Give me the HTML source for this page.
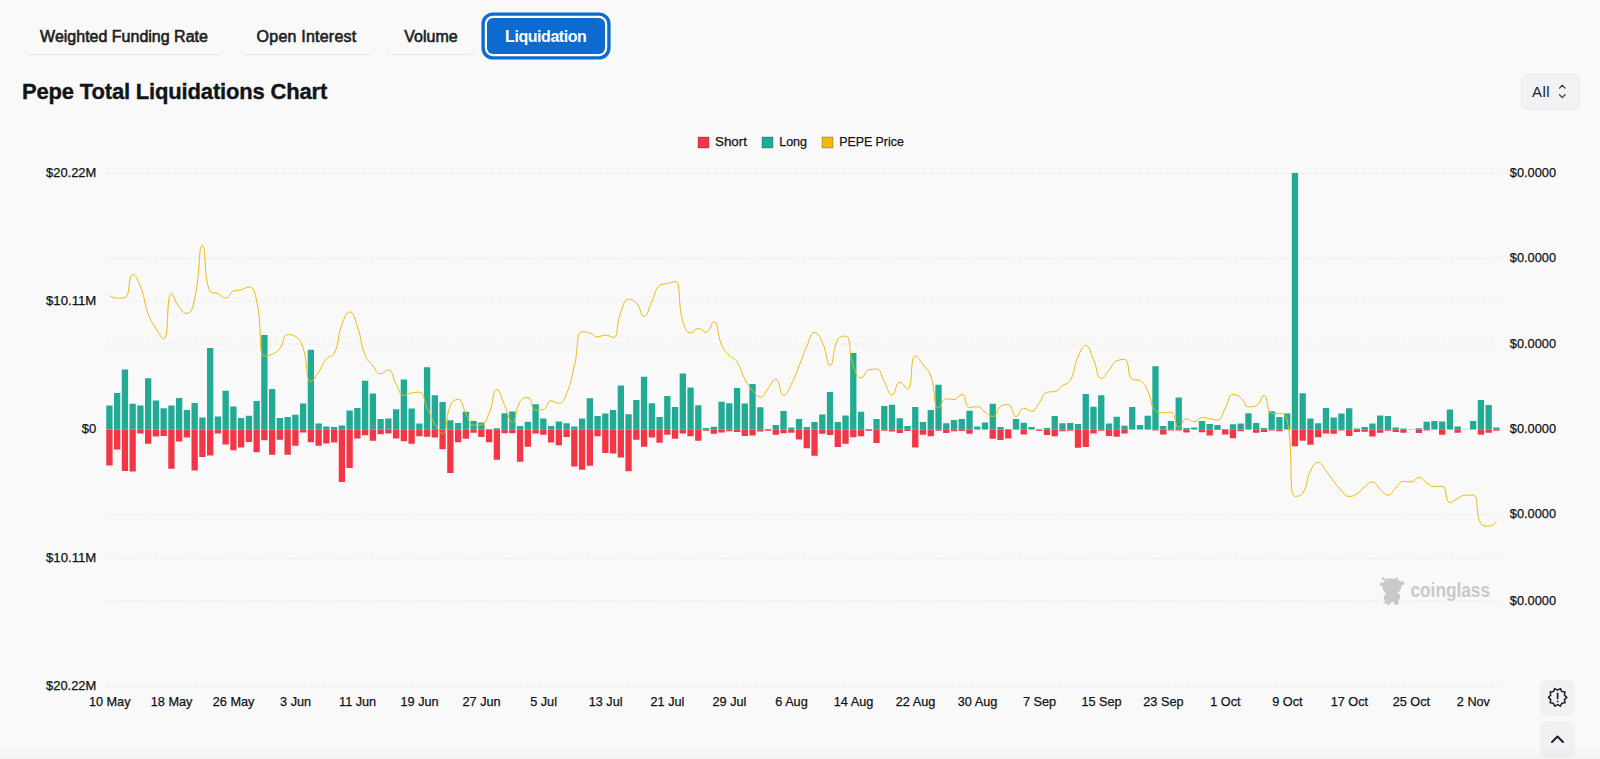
<!DOCTYPE html>
<html lang="en"><head><meta charset="utf-8"><title>Pepe Total Liquidations Chart</title>
<style>
html,body{margin:0;padding:0}
body{width:1600px;height:759px;overflow:hidden;background:#f9f9f9;position:relative;font-family:"Liberation Sans",sans-serif;color:#1b1e23}
.chart{position:absolute;left:0;top:0}
.tab{position:absolute;top:17px;height:37px;box-sizing:border-box;border-radius:8px;background:#f9f9f9;box-shadow:0 1px 0 rgba(0,0,0,.035),0 2px 2px -1px rgba(0,0,0,.05);font-size:16px;line-height:39.5px;text-align:center;white-space:nowrap;-webkit-text-stroke:.6px #1b1e23}
.tab.on{top:18px;height:36px;line-height:37.5px;letter-spacing:-.45px;background:#0d6bcf;color:#fff;font-weight:bold;border-radius:6px;box-shadow:0 0 0 2.2px #fff,0 0 0 5.6px #0d6bcf;-webkit-text-stroke:0}
h1{position:absolute;left:22px;top:76.5px;margin:0;font-size:22px;line-height:30px;font-weight:bold;letter-spacing:-.17px;-webkit-text-stroke:.35px #111418;white-space:nowrap;color:#111418}
.sel{position:absolute;left:1521px;top:74px;width:59px;height:35px;box-sizing:border-box;border-radius:7px;background:#f0f2f4;border:1px solid #e9ebee;box-shadow:0 1px 2px rgba(0,0,0,.06);font-size:15px;line-height:33px;padding-left:10px;letter-spacing:.5px}
.sel svg{position:absolute;left:34px;top:8px}
.fab{position:absolute;left:1540px;width:35px;height:36.5px;border-radius:7px;background:#eff1f3}
.fab svg{position:absolute;left:0;top:0}
.shade{position:absolute;left:0;right:0;bottom:0;height:12px;background:linear-gradient(rgba(0,0,0,0),rgba(0,0,0,.028))}
</style></head><body>
<svg class="chart" width="1600" height="759" viewBox="0 0 1600 759">
<g stroke="#eaeaea" stroke-width="1" stroke-dasharray="4.5 2.25" fill="none">
<path d="M105.6 173.3H1499.6"/>
<path d="M105.6 258.2H1499.6"/>
<path d="M105.6 344.0H1499.6"/>
<path d="M105.6 429.6H1499.6"/>
<path d="M105.6 514.8H1499.6"/>
<path d="M105.6 600.9H1499.6"/>
<path d="M105.6 686.4H1499.6"/>
</g><g stroke="#eeeeee" stroke-width="1" stroke-dasharray="4.5 2.25" fill="none">
<path d="M105.6 301.6H1499.6"/>
<path d="M105.6 558.4H1499.6"/>
</g>
<path fill="#22ab94" d="M106.28 429.6h6.3v-24.1h-6.3zM114.02 429.6h6.3v-36.7h-6.3zM121.77 429.6h6.3v-60.1h-6.3zM129.52 429.6h6.3v-25.8h-6.3zM137.27 429.6h6.3v-24.1h-6.3zM145.02 429.6h6.3v-51.4h-6.3zM152.77 429.6h6.3v-29.1h-6.3zM160.51 429.6h6.3v-21.3h-6.3zM168.26 429.6h6.3v-24.1h-6.3zM176.01 429.6h6.3v-31.6h-6.3zM183.76 429.6h6.3v-19.5h-6.3zM191.51 429.6h6.3v-26.6h-6.3zM199.26 429.6h6.3v-12.2h-6.3zM207.01 429.6h6.3v-81.5h-6.3zM214.75 429.6h6.3v-13.1h-6.3zM222.50 429.6h6.3v-38.8h-6.3zM230.25 429.6h6.3v-23.1h-6.3zM238.00 429.6h6.3v-11.6h-6.3zM245.75 429.6h6.3v-13.9h-6.3zM253.50 429.6h6.3v-28.5h-6.3zM261.25 429.6h6.3v-94.6h-6.3zM268.99 429.6h6.3v-40.5h-6.3zM276.74 429.6h6.3v-11.6h-6.3zM284.49 429.6h6.3v-12.5h-6.3zM292.24 429.6h6.3v-14.8h-6.3zM299.99 429.6h6.3v-26.0h-6.3zM307.74 429.6h6.3v-79.8h-6.3zM315.48 429.6h6.3v-6.2h-6.3zM323.23 429.6h6.3v-3.1h-6.3zM330.98 429.6h6.3v-2.5h-6.3zM338.73 429.6h6.3v-4.1h-6.3zM346.48 429.6h6.3v-19.1h-6.3zM354.23 429.6h6.3v-21.6h-6.3zM361.98 429.6h6.3v-48.8h-6.3zM369.72 429.6h6.3v-36.0h-6.3zM377.47 429.6h6.3v-10.6h-6.3zM385.22 429.6h6.3v-11.0h-6.3zM392.97 429.6h6.3v-20.4h-6.3zM400.72 429.6h6.3v-50.2h-6.3zM408.47 429.6h6.3v-21.0h-6.3zM416.21 429.6h6.3v-6.0h-6.3zM423.96 429.6h6.3v-62.3h-6.3zM431.71 429.6h6.3v-34.4h-6.3zM439.46 429.6h6.3v-27.5h-6.3zM447.21 429.6h6.3v-9.4h-6.3zM454.96 429.6h6.3v-6.6h-6.3zM462.71 429.6h6.3v-17.9h-6.3zM470.45 429.6h6.3v-8.5h-6.3zM478.20 429.6h6.3v-7.2h-6.3zM485.95 429.6h6.3v-0.4h-6.3zM493.70 429.6h6.3v-1.4h-6.3zM501.45 429.6h6.3v-16.3h-6.3zM509.20 429.6h6.3v-18.1h-6.3zM516.95 429.6h6.3v-3.5h-6.3zM524.69 429.6h6.3v-7.9h-6.3zM532.44 429.6h6.3v-25.4h-6.3zM540.19 429.6h6.3v-11.2h-6.3zM547.94 429.6h6.3v-3.7h-6.3zM555.69 429.6h6.3v-8.1h-6.3zM563.44 429.6h6.3v-6.4h-6.3zM571.19 429.6h6.3v-3.2h-6.3zM578.93 429.6h6.3v-11.2h-6.3zM586.68 429.6h6.3v-31.4h-6.3zM594.43 429.6h6.3v-13.5h-6.3zM602.18 429.6h6.3v-16.0h-6.3zM609.93 429.6h6.3v-19.5h-6.3zM617.68 429.6h6.3v-44.2h-6.3zM625.42 429.6h6.3v-15.4h-6.3zM633.17 429.6h6.3v-29.5h-6.3zM640.92 429.6h6.3v-52.9h-6.3zM648.67 429.6h6.3v-26.4h-6.3zM656.42 429.6h6.3v-12.5h-6.3zM664.17 429.6h6.3v-33.5h-6.3zM671.92 429.6h6.3v-22.5h-6.3zM679.66 429.6h6.3v-56.1h-6.3zM687.41 429.6h6.3v-42.0h-6.3zM695.16 429.6h6.3v-24.4h-6.3zM702.91 429.6h6.3v-1.6h-6.3zM710.66 429.6h6.3v-2.9h-6.3zM718.41 429.6h6.3v-27.9h-6.3zM726.16 429.6h6.3v-26.3h-6.3zM733.90 429.6h6.3v-41.7h-6.3zM741.65 429.6h6.3v-26.0h-6.3zM749.40 429.6h6.3v-45.7h-6.3zM757.15 429.6h6.3v-22.3h-6.3zM764.90 429.6h6.3v-0.5h-6.3zM772.65 429.6h6.3v-4.5h-6.3zM780.39 429.6h6.3v-18.5h-6.3zM788.14 429.6h6.3v-2.2h-6.3zM795.89 429.6h6.3v-10.7h-6.3zM803.64 429.6h6.3v-2.6h-6.3zM811.39 429.6h6.3v-7.6h-6.3zM819.14 429.6h6.3v-15.0h-6.3zM826.89 429.6h6.3v-37.5h-6.3zM834.63 429.6h6.3v-7.6h-6.3zM842.38 429.6h6.3v-14.1h-6.3zM850.13 429.6h6.3v-76.6h-6.3zM857.88 429.6h6.3v-17.9h-6.3zM865.63 429.6h6.3v-0.5h-6.3zM873.38 429.6h6.3v-10.7h-6.3zM881.13 429.6h6.3v-23.5h-6.3zM888.87 429.6h6.3v-24.8h-6.3zM896.62 429.6h6.3v-11.4h-6.3zM904.37 429.6h6.3v-3.7h-6.3zM912.12 429.6h6.3v-22.5h-6.3zM919.87 429.6h6.3v-7.5h-6.3zM927.62 429.6h6.3v-19.5h-6.3zM935.36 429.6h6.3v-44.8h-6.3zM943.11 429.6h6.3v-6.4h-6.3zM950.86 429.6h6.3v-9.7h-6.3zM958.61 429.6h6.3v-10.7h-6.3zM966.36 429.6h6.3v-18.9h-6.3zM974.11 429.6h6.3v-3.1h-6.3zM981.86 429.6h6.3v-7.2h-6.3zM989.60 429.6h6.3v-25.8h-6.3zM997.35 429.6h6.3v-2.6h-6.3zM1005.10 429.6h6.3v-0.4h-6.3zM1012.85 429.6h6.3v-10.6h-6.3zM1020.60 429.6h6.3v-6.9h-6.3zM1028.35 429.6h6.3v-2.6h-6.3zM1036.10 429.6h6.3v-0.4h-6.3zM1043.84 429.6h6.3v-1.6h-6.3zM1051.59 429.6h6.3v-13.5h-6.3zM1059.34 429.6h6.3v-6.4h-6.3zM1067.09 429.6h6.3v-6.6h-6.3zM1074.84 429.6h6.3v-5.6h-6.3zM1082.59 429.6h6.3v-35.7h-6.3zM1090.33 429.6h6.3v-22.9h-6.3zM1098.08 429.6h6.3v-34.4h-6.3zM1105.83 429.6h6.3v-6.2h-6.3zM1113.58 429.6h6.3v-12.9h-6.3zM1121.33 429.6h6.3v-3.9h-6.3zM1129.08 429.6h6.3v-22.5h-6.3zM1136.83 429.6h6.3v-4.7h-6.3zM1144.57 429.6h6.3v-13.8h-6.3zM1152.32 429.6h6.3v-63.3h-6.3zM1160.07 429.6h6.3v-3.7h-6.3zM1167.82 429.6h6.3v-8.5h-6.3zM1175.57 429.6h6.3v-32.0h-6.3zM1183.32 429.6h6.3v-1.6h-6.3zM1191.07 429.6h6.3v-2.2h-6.3zM1198.81 429.6h6.3v-8.5h-6.3zM1206.56 429.6h6.3v-5.6h-6.3zM1214.31 429.6h6.3v-4.5h-6.3zM1222.06 429.6h6.3v-0.4h-6.3zM1229.81 429.6h6.3v-5.4h-6.3zM1237.56 429.6h6.3v-6.2h-6.3zM1245.30 429.6h6.3v-16.3h-6.3zM1253.05 429.6h6.3v-6.6h-6.3zM1260.80 429.6h6.3v-1.6h-6.3zM1268.55 429.6h6.3v-18.3h-6.3zM1276.30 429.6h6.3v-12.5h-6.3zM1284.05 429.6h6.3v-16.0h-6.3zM1291.80 429.6h6.3v-256.7h-6.3zM1299.54 429.6h6.3v-36.4h-6.3zM1307.29 429.6h6.3v-11.0h-6.3zM1315.04 429.6h6.3v-6.4h-6.3zM1322.79 429.6h6.3v-21.6h-6.3zM1330.54 429.6h6.3v-12.2h-6.3zM1338.29 429.6h6.3v-16.0h-6.3zM1346.04 429.6h6.3v-21.3h-6.3zM1353.78 429.6h6.3v-1.0h-6.3zM1361.53 429.6h6.3v-2.6h-6.3zM1369.28 429.6h6.3v-6.2h-6.3zM1377.03 429.6h6.3v-14.1h-6.3zM1384.78 429.6h6.3v-13.5h-6.3zM1392.53 429.6h6.3v-2.2h-6.3zM1400.27 429.6h6.3v-1.2h-6.3zM1408.02 429.6h6.3v-0.4h-6.3zM1415.77 429.6h6.3v-1.4h-6.3zM1423.52 429.6h6.3v-7.9h-6.3zM1431.27 429.6h6.3v-8.5h-6.3zM1439.02 429.6h6.3v-8.2h-6.3zM1446.77 429.6h6.3v-20.1h-6.3zM1454.51 429.6h6.3v-3.2h-6.3zM1462.26 429.6h6.3v-0.4h-6.3zM1470.01 429.6h6.3v-8.7h-6.3zM1477.76 429.6h6.3v-29.5h-6.3zM1485.51 429.6h6.3v-24.5h-6.3zM1493.26 429.6h6.3v-2.2h-6.3z"/>
<path fill="#f23645" d="M106.28 429.6h6.3v35.9h-6.3zM114.02 429.6h6.3v19.8h-6.3zM121.77 429.6h6.3v41.4h-6.3zM129.52 429.6h6.3v42.0h-6.3zM137.27 429.6h6.3v3.8h-6.3zM145.02 429.6h6.3v14.2h-6.3zM152.77 429.6h6.3v6.9h-6.3zM160.51 429.6h6.3v6.4h-6.3zM168.26 429.6h6.3v39.2h-6.3zM176.01 429.6h6.3v12.0h-6.3zM183.76 429.6h6.3v7.9h-6.3zM191.51 429.6h6.3v40.9h-6.3zM199.26 429.6h6.3v27.3h-6.3zM207.01 429.6h6.3v25.8h-6.3zM214.75 429.6h6.3v3.9h-6.3zM222.50 429.6h6.3v15.0h-6.3zM230.25 429.6h6.3v20.7h-6.3zM238.00 429.6h6.3v18.0h-6.3zM245.75 429.6h6.3v12.3h-6.3zM253.50 429.6h6.3v22.7h-6.3zM261.25 429.6h6.3v10.7h-6.3zM268.99 429.6h6.3v25.1h-6.3zM276.74 429.6h6.3v10.1h-6.3zM284.49 429.6h6.3v25.1h-6.3zM292.24 429.6h6.3v16.2h-6.3zM299.99 429.6h6.3v2.9h-6.3zM307.74 429.6h6.3v12.6h-6.3zM315.48 429.6h6.3v16.1h-6.3zM323.23 429.6h6.3v13.8h-6.3zM330.98 429.6h6.3v13.0h-6.3zM338.73 429.6h6.3v52.4h-6.3zM346.48 429.6h6.3v38.4h-6.3zM354.23 429.6h6.3v8.8h-6.3zM361.98 429.6h6.3v5.7h-6.3zM369.72 429.6h6.3v11.1h-6.3zM377.47 429.6h6.3v4.6h-6.3zM385.22 429.6h6.3v3.9h-6.3zM392.97 429.6h6.3v8.9h-6.3zM400.72 429.6h6.3v11.7h-6.3zM408.47 429.6h6.3v14.2h-6.3zM416.21 429.6h6.3v6.7h-6.3zM423.96 429.6h6.3v7.1h-6.3zM431.71 429.6h6.3v7.9h-6.3zM439.46 429.6h6.3v19.6h-6.3zM447.21 429.6h6.3v43.4h-6.3zM454.96 429.6h6.3v12.7h-6.3zM462.71 429.6h6.3v9.2h-6.3zM470.45 429.6h6.3v3.2h-6.3zM478.20 429.6h6.3v7.3h-6.3zM485.95 429.6h6.3v12.6h-6.3zM493.70 429.6h6.3v30.2h-6.3zM501.45 429.6h6.3v3.6h-6.3zM509.20 429.6h6.3v3.6h-6.3zM516.95 429.6h6.3v32.1h-6.3zM524.69 429.6h6.3v17.1h-6.3zM532.44 429.6h6.3v3.9h-6.3zM540.19 429.6h6.3v5.2h-6.3zM547.94 429.6h6.3v13.0h-6.3zM555.69 429.6h6.3v15.7h-6.3zM563.44 429.6h6.3v7.4h-6.3zM571.19 429.6h6.3v37.0h-6.3zM578.93 429.6h6.3v40.1h-6.3zM586.68 429.6h6.3v36.1h-6.3zM594.43 429.6h6.3v6.7h-6.3zM602.18 429.6h6.3v23.3h-6.3zM609.93 429.6h6.3v24.0h-6.3zM617.68 429.6h6.3v28.0h-6.3zM625.42 429.6h6.3v41.7h-6.3zM633.17 429.6h6.3v10.2h-6.3zM640.92 429.6h6.3v17.1h-6.3zM648.67 429.6h6.3v7.9h-6.3zM656.42 429.6h6.3v13.1h-6.3zM664.17 429.6h6.3v5.1h-6.3zM671.92 429.6h6.3v9.2h-6.3zM679.66 429.6h6.3v3.9h-6.3zM687.41 429.6h6.3v6.7h-6.3zM695.16 429.6h6.3v11.1h-6.3zM702.91 429.6h6.3v1.1h-6.3zM710.66 429.6h6.3v4.2h-6.3zM718.41 429.6h6.3v2.9h-6.3zM726.16 429.6h6.3v1.7h-6.3zM733.90 429.6h6.3v2.3h-6.3zM741.65 429.6h6.3v6.4h-6.3zM749.40 429.6h6.3v5.8h-6.3zM757.15 429.6h6.3v1.9h-6.3zM764.90 429.6h6.3v1.1h-6.3zM772.65 429.6h6.3v5.2h-6.3zM780.39 429.6h6.3v3.6h-6.3zM788.14 429.6h6.3v3.2h-6.3zM795.89 429.6h6.3v9.8h-6.3zM803.64 429.6h6.3v18.6h-6.3zM811.39 429.6h6.3v26.1h-6.3zM819.14 429.6h6.3v4.2h-6.3zM826.89 429.6h6.3v5.4h-6.3zM834.63 429.6h6.3v17.3h-6.3zM842.38 429.6h6.3v14.2h-6.3zM850.13 429.6h6.3v7.7h-6.3zM857.88 429.6h6.3v6.7h-6.3zM865.63 429.6h6.3v1.1h-6.3zM873.38 429.6h6.3v13.3h-6.3zM881.13 429.6h6.3v1.1h-6.3zM888.87 429.6h6.3v1.9h-6.3zM896.62 429.6h6.3v3.3h-6.3zM904.37 429.6h6.3v1.4h-6.3zM912.12 429.6h6.3v18.0h-6.3zM919.87 429.6h6.3v5.2h-6.3zM927.62 429.6h6.3v6.7h-6.3zM935.36 429.6h6.3v1.1h-6.3zM943.11 429.6h6.3v3.3h-6.3zM950.86 429.6h6.3v1.7h-6.3zM958.61 429.6h6.3v1.4h-6.3zM966.36 429.6h6.3v4.2h-6.3zM989.60 429.6h6.3v9.2h-6.3zM997.35 429.6h6.3v10.5h-6.3zM1005.10 429.6h6.3v8.9h-6.3zM1020.60 429.6h6.3v4.8h-6.3zM1036.10 429.6h6.3v1.1h-6.3zM1043.84 429.6h6.3v5.4h-6.3zM1051.59 429.6h6.3v6.7h-6.3zM1059.34 429.6h6.3v1.7h-6.3zM1067.09 429.6h6.3v1.1h-6.3zM1074.84 429.6h6.3v18.2h-6.3zM1082.59 429.6h6.3v17.3h-6.3zM1090.33 429.6h6.3v3.9h-6.3zM1098.08 429.6h6.3v1.1h-6.3zM1105.83 429.6h6.3v6.4h-6.3zM1113.58 429.6h6.3v7.1h-6.3zM1121.33 429.6h6.3v3.9h-6.3zM1152.32 429.6h6.3v0.8h-6.3zM1160.07 429.6h6.3v4.8h-6.3zM1167.82 429.6h6.3v0.8h-6.3zM1175.57 429.6h6.3v0.8h-6.3zM1183.32 429.6h6.3v2.9h-6.3zM1198.81 429.6h6.3v2.7h-6.3zM1206.56 429.6h6.3v5.8h-6.3zM1214.31 429.6h6.3v0.4h-6.3zM1222.06 429.6h6.3v4.8h-6.3zM1229.81 429.6h6.3v8.6h-6.3zM1237.56 429.6h6.3v1.7h-6.3zM1253.05 429.6h6.3v3.2h-6.3zM1260.80 429.6h6.3v2.3h-6.3zM1268.55 429.6h6.3v0.8h-6.3zM1276.30 429.6h6.3v1.7h-6.3zM1291.80 429.6h6.3v16.7h-6.3zM1299.54 429.6h6.3v11.1h-6.3zM1307.29 429.6h6.3v15.1h-6.3zM1315.04 429.6h6.3v7.6h-6.3zM1322.79 429.6h6.3v3.9h-6.3zM1330.54 429.6h6.3v4.2h-6.3zM1338.29 429.6h6.3v0.8h-6.3zM1346.04 429.6h6.3v6.3h-6.3zM1353.78 429.6h6.3v2.3h-6.3zM1361.53 429.6h6.3v2.1h-6.3zM1369.28 429.6h6.3v6.9h-6.3zM1377.03 429.6h6.3v3.2h-6.3zM1384.78 429.6h6.3v1.1h-6.3zM1392.53 429.6h6.3v2.3h-6.3zM1400.27 429.6h6.3v3.2h-6.3zM1415.77 429.6h6.3v3.3h-6.3zM1423.52 429.6h6.3v0.8h-6.3zM1439.02 429.6h6.3v5.1h-6.3zM1454.51 429.6h6.3v3.2h-6.3zM1477.76 429.6h6.3v5.2h-6.3zM1485.51 429.6h6.3v3.2h-6.3zM1493.26 429.6h6.3v1.1h-6.3z"/>
<path fill="none" stroke="#f0b90b" stroke-width="1.0" stroke-linejoin="round" d="M109.5 295.6C109.5 295.6 113.2 298.2 117.2 298.2C121.0 298.2 123.1 298.2 124.9 297.7C130.8 296.1 127.8 274.5 132.7 274.5C135.5 274.5 137.9 279.9 140.4 286.4C145.6 299.6 143.3 300.6 148.2 314.0C151.0 321.7 151.6 321.5 155.9 328.5C159.4 334.1 162.0 339.1 163.7 339.1C169.7 339.1 165.7 293.5 171.4 293.5C173.4 293.5 174.4 301.2 179.2 307.4C182.2 311.2 184.1 313.5 186.9 313.5C191.9 313.5 192.8 306.5 194.7 298.2C200.6 272.2 198.3 245.0 202.4 245.0C206.1 245.0 203.6 280.3 210.2 291.6C211.3 293.5 214.3 292.0 217.9 293.5C222.0 295.3 222.1 298.2 225.7 298.2C229.8 298.2 229.0 292.8 233.4 291.1C236.7 289.8 237.4 290.8 241.2 289.8C245.1 288.7 246.3 286.9 248.9 286.9C254.0 286.9 254.9 293.2 256.7 300.9C262.7 327.8 257.6 356.2 264.4 356.2C265.4 356.2 268.7 356.1 272.2 354.3C276.4 352.1 276.9 352.1 279.9 348.3C284.7 342.2 282.5 334.6 287.7 334.6C290.3 334.6 292.6 334.6 295.4 336.4C300.4 339.6 300.9 341.7 303.2 348.3C308.6 364.3 305.2 381.7 310.9 381.7C313.0 381.7 315.2 377.1 318.7 372.0C322.9 365.7 321.6 364.5 326.4 358.8C329.4 355.3 332.3 357.6 334.2 353.5C340.1 340.5 336.7 338.5 341.9 324.6C344.5 317.7 346.0 311.9 349.7 311.9C353.7 311.9 354.7 318.7 357.4 326.4C362.4 340.5 359.7 341.6 365.2 355.4C367.5 361.4 368.7 360.9 372.9 365.9C376.5 370.1 376.3 373.8 380.6 373.8C384.1 373.8 385.7 369.9 388.4 369.9C393.5 369.9 391.9 377.3 396.1 384.3C399.7 390.1 399.0 395.4 403.9 395.4C406.8 395.4 407.7 393.8 411.6 393.0C415.4 392.2 417.0 392.2 419.4 392.2C424.8 392.2 423.3 400.2 427.1 408.1C431.0 416.0 430.4 416.4 434.9 423.9C438.1 429.3 440.3 433.9 442.6 433.9C448.1 433.9 444.6 418.4 450.4 405.4C452.3 401.1 455.2 399.4 458.1 399.4C462.9 399.4 461.8 406.5 465.9 413.3C469.5 419.4 468.6 425.2 473.6 425.2C476.4 425.2 478.6 425.2 481.4 424.7C486.3 423.8 486.4 419.5 489.1 413.3C494.1 402.0 492.3 389.6 496.9 389.6C500.1 389.6 500.9 397.4 504.6 405.4C508.6 413.9 508.8 422.5 512.4 422.5C516.6 422.5 514.5 410.5 520.1 401.5C522.3 398.0 525.0 397.5 527.9 397.5C532.8 397.5 530.5 410.2 535.6 410.2C538.3 410.2 540.3 410.2 543.4 409.4C548.0 408.2 546.6 400.7 551.1 400.7C554.3 400.7 555.8 403.3 558.9 403.3C563.5 403.3 564.3 399.2 566.6 393.6C572.0 380.5 570.9 379.8 574.4 365.9C578.6 348.9 575.8 331.7 582.1 331.7C583.5 331.7 586.2 331.8 589.9 333.0C593.9 334.4 593.6 336.9 597.6 336.9C601.3 336.9 601.5 335.1 605.4 335.1C609.3 335.1 611.3 337.5 613.1 337.5C619.0 337.5 615.9 324.2 620.9 311.9C623.6 305.1 623.7 299.3 628.6 299.3C631.4 299.3 633.6 299.7 636.3 302.7C641.4 308.3 640.4 316.4 644.1 316.4C648.1 316.4 648.1 308.9 651.8 301.4C655.8 293.5 654.3 290.2 659.6 285.6C662.0 283.5 663.5 284.5 667.3 283.5C671.2 282.5 673.8 281.6 675.1 281.6C681.6 281.6 677.1 302.1 682.8 321.1C684.9 327.8 685.8 333.0 690.6 333.0C693.6 333.0 694.4 328.5 698.3 328.5C702.1 328.5 703.0 332.2 706.1 332.2C710.7 332.2 711.1 321.9 713.8 321.9C718.9 321.9 716.6 333.9 721.6 344.8C724.3 350.7 725.0 350.6 729.3 355.4C732.7 359.2 734.4 357.8 737.1 362.0C742.1 369.7 740.4 370.9 744.8 379.1C748.2 385.3 748.0 385.6 752.6 390.9C755.8 394.6 756.8 397.0 760.3 397.0C764.5 397.0 764.3 392.7 768.1 388.3C772.0 383.8 772.7 379.1 775.8 379.1C780.5 379.1 779.1 395.4 783.6 395.4C786.9 395.4 788.2 390.3 791.3 384.3C795.9 375.5 795.3 375.1 799.1 365.9C803.1 356.0 802.4 355.7 806.8 346.1C810.1 339.0 810.2 332.5 814.6 332.5C818.0 332.5 819.7 336.7 822.3 342.2C827.5 353.1 826.4 365.4 830.1 365.4C834.1 365.4 831.9 350.7 837.8 339.6C839.7 336.1 843.9 336.1 845.6 336.1C851.6 336.1 848.0 351.6 853.3 365.9C855.8 372.5 856.7 377.8 861.1 377.8C864.4 377.8 864.3 371.0 868.8 369.9C872.0 369.1 873.9 369.1 876.6 369.1C881.6 369.1 880.5 375.4 884.3 381.7C888.2 388.3 888.1 394.9 892.0 394.9C895.9 394.9 895.2 382.2 899.8 382.2C903.0 382.2 905.7 389.1 907.5 389.1C913.5 389.1 909.5 355.9 915.3 355.9C917.3 355.9 919.5 360.0 923.0 364.6C927.3 370.2 928.5 369.8 930.8 376.4C936.2 391.6 932.9 408.1 938.5 408.1C940.6 408.1 941.6 398.8 946.3 398.8C949.3 398.8 950.5 399.6 954.0 399.6C958.3 399.6 958.8 394.4 961.8 394.4C966.6 394.4 964.4 407.5 969.5 407.5C972.2 407.5 973.8 406.7 977.3 406.7C981.5 406.7 981.1 409.5 985.0 412.0C988.8 414.4 989.5 416.5 992.8 416.5C997.3 416.5 995.8 410.0 1000.5 406.7C1003.6 404.6 1005.5 404.6 1008.3 404.6C1013.2 404.6 1011.7 416.5 1016.0 416.5C1019.5 416.5 1019.3 408.1 1023.8 408.1C1027.0 408.1 1028.3 411.2 1031.5 411.2C1036.0 411.2 1035.7 407.2 1039.3 402.8C1043.4 397.7 1042.2 393.4 1047.0 392.2C1049.9 391.5 1051.3 392.2 1054.8 391.5C1059.1 390.6 1058.6 388.5 1062.5 385.7C1066.3 383.0 1068.1 384.4 1070.3 380.4C1075.9 370.0 1073.0 368.1 1078.0 356.9C1080.8 350.7 1082.2 345.6 1085.8 345.6C1089.9 345.6 1090.1 352.3 1093.5 359.5C1097.9 368.8 1096.3 378.5 1101.3 378.5C1104.0 378.5 1105.2 374.4 1109.0 370.1C1113.0 365.5 1112.1 362.8 1116.8 360.8C1119.8 359.5 1122.4 359.5 1124.5 359.5C1130.2 359.5 1126.6 375.8 1132.3 379.3C1134.3 380.6 1137.1 379.3 1140.0 380.6C1144.8 382.8 1144.8 385.3 1147.7 391.1C1152.6 400.5 1149.9 406.1 1155.5 410.9C1157.6 412.7 1159.3 412.7 1163.2 412.7C1167.1 412.7 1168.6 412.2 1171.0 412.2C1176.3 412.2 1174.1 427.5 1178.7 427.5C1181.9 427.5 1182.0 418.8 1186.5 418.8C1189.7 418.8 1190.5 421.9 1194.2 421.9C1198.2 421.9 1197.9 417.5 1202.0 417.5C1205.6 417.5 1205.9 418.2 1209.7 418.8C1213.6 419.4 1214.7 420.1 1217.5 420.1C1222.5 420.1 1221.6 414.3 1225.2 408.2C1229.3 401.5 1227.9 394.5 1233.0 394.5C1235.7 394.5 1237.5 395.2 1240.7 397.7C1245.3 401.4 1243.8 406.9 1248.5 406.9C1251.5 406.9 1253.3 406.9 1256.2 405.6C1261.0 403.5 1260.9 395.6 1264.0 395.6C1268.7 395.6 1266.2 413.5 1271.7 413.5C1273.9 413.5 1276.1 413.5 1279.5 413.5C1283.9 413.5 1286.3 415.2 1287.2 420.1C1294.1 456.7 1288.0 496.4 1295.0 496.4C1295.7 496.4 1300.7 496.4 1302.7 493.3C1308.4 484.5 1305.2 481.3 1310.5 470.9C1313.0 465.9 1314.3 462.5 1318.2 462.5C1322.1 462.5 1322.3 466.5 1326.0 470.9C1330.1 475.9 1329.7 476.3 1333.7 481.4C1337.4 486.1 1337.2 486.4 1341.5 490.6C1344.9 493.9 1345.0 496.4 1349.2 496.4C1352.8 496.4 1353.6 495.9 1357.0 493.8C1361.3 491.1 1360.6 489.9 1364.7 486.7C1368.3 483.9 1368.9 481.9 1372.5 481.9C1376.6 481.9 1376.1 485.8 1380.2 489.3C1383.9 492.4 1384.2 495.1 1388.0 495.1C1392.0 495.1 1391.8 491.5 1395.7 488.0C1399.5 484.6 1399.1 481.4 1403.4 481.4C1406.8 481.4 1407.6 481.9 1411.2 481.9C1415.3 481.9 1415.2 477.5 1418.9 477.5C1422.9 477.5 1422.7 480.3 1426.7 482.7C1430.4 484.9 1430.3 486.7 1434.4 486.7C1438.1 486.7 1439.9 486.2 1442.2 486.2C1447.6 486.2 1444.7 502.5 1449.9 502.5C1452.5 502.5 1453.8 500.4 1457.7 498.5C1461.5 496.7 1461.4 495.1 1465.4 495.1C1469.1 495.1 1471.6 495.1 1473.2 495.1C1479.3 495.1 1474.9 514.2 1480.9 523.6C1482.6 526.2 1485.0 526.2 1488.7 526.2C1492.7 526.2 1496.4 521.7 1496.4 521.7"/>
<g font-family="'Liberation Sans', sans-serif" font-size="12.7" fill="#111316" stroke="#111316" stroke-width=".25">
<text x="96.3" y="176.7" text-anchor="end" textLength="50.3" lengthAdjust="spacingAndGlyphs">$20.22M</text>
<text x="96.3" y="305.0" text-anchor="end" textLength="50.3" lengthAdjust="spacingAndGlyphs">$10.11M</text>
<text x="96.3" y="432.9" text-anchor="end" textLength="14.5" lengthAdjust="spacingAndGlyphs">$0</text>
<text x="96.3" y="561.8" text-anchor="end" textLength="50.3" lengthAdjust="spacingAndGlyphs">$10.11M</text>
<text x="96.3" y="689.8" text-anchor="end" textLength="50.3" lengthAdjust="spacingAndGlyphs">$20.22M</text>
<text x="1509.8" y="176.9" textLength="46.2" lengthAdjust="spacingAndGlyphs">$0.0000</text>
<text x="1509.8" y="261.8" textLength="46.2" lengthAdjust="spacingAndGlyphs">$0.0000</text>
<text x="1509.8" y="347.6" textLength="46.2" lengthAdjust="spacingAndGlyphs">$0.0000</text>
<text x="1509.8" y="433.2" textLength="46.2" lengthAdjust="spacingAndGlyphs">$0.0000</text>
<text x="1509.8" y="518.4" textLength="46.2" lengthAdjust="spacingAndGlyphs">$0.0000</text>
<text x="1509.8" y="604.5" textLength="46.2" lengthAdjust="spacingAndGlyphs">$0.0000</text>
<text x="109.7" y="705.8" text-anchor="middle">10 May</text>
<text x="171.6" y="705.8" text-anchor="middle">18 May</text>
<text x="233.6" y="705.8" text-anchor="middle">26 May</text>
<text x="295.6" y="705.8" text-anchor="middle">3 Jun</text>
<text x="357.6" y="705.8" text-anchor="middle">11 Jun</text>
<text x="419.6" y="705.8" text-anchor="middle">19 Jun</text>
<text x="481.6" y="705.8" text-anchor="middle">27 Jun</text>
<text x="543.6" y="705.8" text-anchor="middle">5 Jul</text>
<text x="605.6" y="705.8" text-anchor="middle">13 Jul</text>
<text x="667.5" y="705.8" text-anchor="middle">21 Jul</text>
<text x="729.5" y="705.8" text-anchor="middle">29 Jul</text>
<text x="791.5" y="705.8" text-anchor="middle">6 Aug</text>
<text x="853.5" y="705.8" text-anchor="middle">14 Aug</text>
<text x="915.5" y="705.8" text-anchor="middle">22 Aug</text>
<text x="977.5" y="705.8" text-anchor="middle">30 Aug</text>
<text x="1039.5" y="705.8" text-anchor="middle">7 Sep</text>
<text x="1101.5" y="705.8" text-anchor="middle">15 Sep</text>
<text x="1163.4" y="705.8" text-anchor="middle">23 Sep</text>
<text x="1225.4" y="705.8" text-anchor="middle">1 Oct</text>
<text x="1287.4" y="705.8" text-anchor="middle">9 Oct</text>
<text x="1349.4" y="705.8" text-anchor="middle">17 Oct</text>
<text x="1411.4" y="705.8" text-anchor="middle">25 Oct</text>
<text x="1473.4" y="705.8" text-anchor="middle">2 Nov</text>
<rect x="698" y="137" width="11" height="11" fill="#f23645"/><text x="715" y="146" textLength="32" lengthAdjust="spacingAndGlyphs">Short</text>
<rect x="762" y="137" width="11" height="11" fill="#22ab94"/><text x="779.2" y="146" textLength="27.8" lengthAdjust="spacingAndGlyphs">Long</text>
<rect x="822" y="137" width="11" height="11" fill="#f0b90b"/><text x="839.2" y="146" textLength="64.6" lengthAdjust="spacingAndGlyphs">PEPE Price</text>
</g>
<g fill="#c9c9c9">
<path transform="translate(1404.5 0) scale(1.13 1) translate(-1404.5 0)" d="M1384.600 579.800l.7-3l2.600 2.200c1.200-.3 2.500-.4 3.800-.4s2.600.1 3.800.4l2.600-2.200l.7 3c1 .5 1.800 1.100 2.500 1.800c1.400-.3 2.700.1 3.200 1.100c.4 1.300-.9 2.500-2.700 2.500c.3 3.200-1.200 6-3.600 7.600c2.100 1.100 3.100 3 2.400 5.100c-.4 1.100-1.200 1.600-1.400 2.900v2.300c0 1.100-.8 1.800-2.100 1.800s-2.100-.7-2.100-1.800v-1.300h-2.400v1.300c0 1.100-.8 1.800-2.100 1.800s-2.100-.7-2.100-1.800l-2.900 1l2-2.900c-.3-1-.9-1.500-1.300-2.400c-.7-2.100.3-4 2.400-5.100c-2.400-1.600-3.900-4.400-3.600-7.600c-1.800 0-3.100-1.200-2.700-2.500c.5-1 1.800-1.400 3.200-1.100c.7-.7 1.500-1.300 2.500-1.800z"/>
<text x="1410.5" y="596.6" font-family="'Liberation Sans', sans-serif" font-weight="bold" font-size="20" textLength="79.5" lengthAdjust="spacingAndGlyphs">coinglass</text>
</g>
</svg>
<div class="tab" style="left:22px;width:204px">Weighted Funding Rate</div>
<div class="tab" style="left:239px;width:135px;letter-spacing:.22px">Open Interest</div>
<div class="tab" style="left:386px;width:90px">Volume</div>
<div class="tab on" style="left:487px;width:117.5px">Liquidation</div>
<h1>Pepe Total Liquidations Chart</h1>
<div class="sel">All<svg width="12" height="18" viewBox="0 0 12 18" fill="none" stroke="#3a3f47" stroke-width="1.3" stroke-linecap="round" stroke-linejoin="round"><path d="M3.500 5.100L6.300 2.300l2.800 2.800M3.500 11.800L6.300 14.600l2.800-2.800"/></svg></div>
<div class="fab" style="top:679.5px"><svg width="35" height="36" viewBox="0 0 35 36" fill="none" stroke="#1d2025" stroke-width="1.5" stroke-linecap="round" stroke-linejoin="round"><path d="M26.80 17.40L24.45 15.18L25.04 11.99L21.83 11.58L20.44 8.65L17.60 10.20L14.76 8.65L13.37 11.58L10.16 11.99L10.75 15.18L8.40 17.40L10.75 19.62L10.16 22.81L13.37 23.22L14.76 26.15L17.60 24.60L20.44 26.15L21.83 23.22L25.04 22.81L24.45 19.62z"/><path d="M17.600 13.300v5M17.600 21.400v.1" stroke-width="1.7"/></svg></div>
<div class="fab" style="top:721px"><svg width="35" height="36" viewBox="0 0 35 36" fill="none" stroke="#1d2025" stroke-width="2" stroke-linecap="round" stroke-linejoin="round"><path d="M12 21l5.500-5.500L23 21"/></svg></div>
<div class="shade"></div>
</body></html>
